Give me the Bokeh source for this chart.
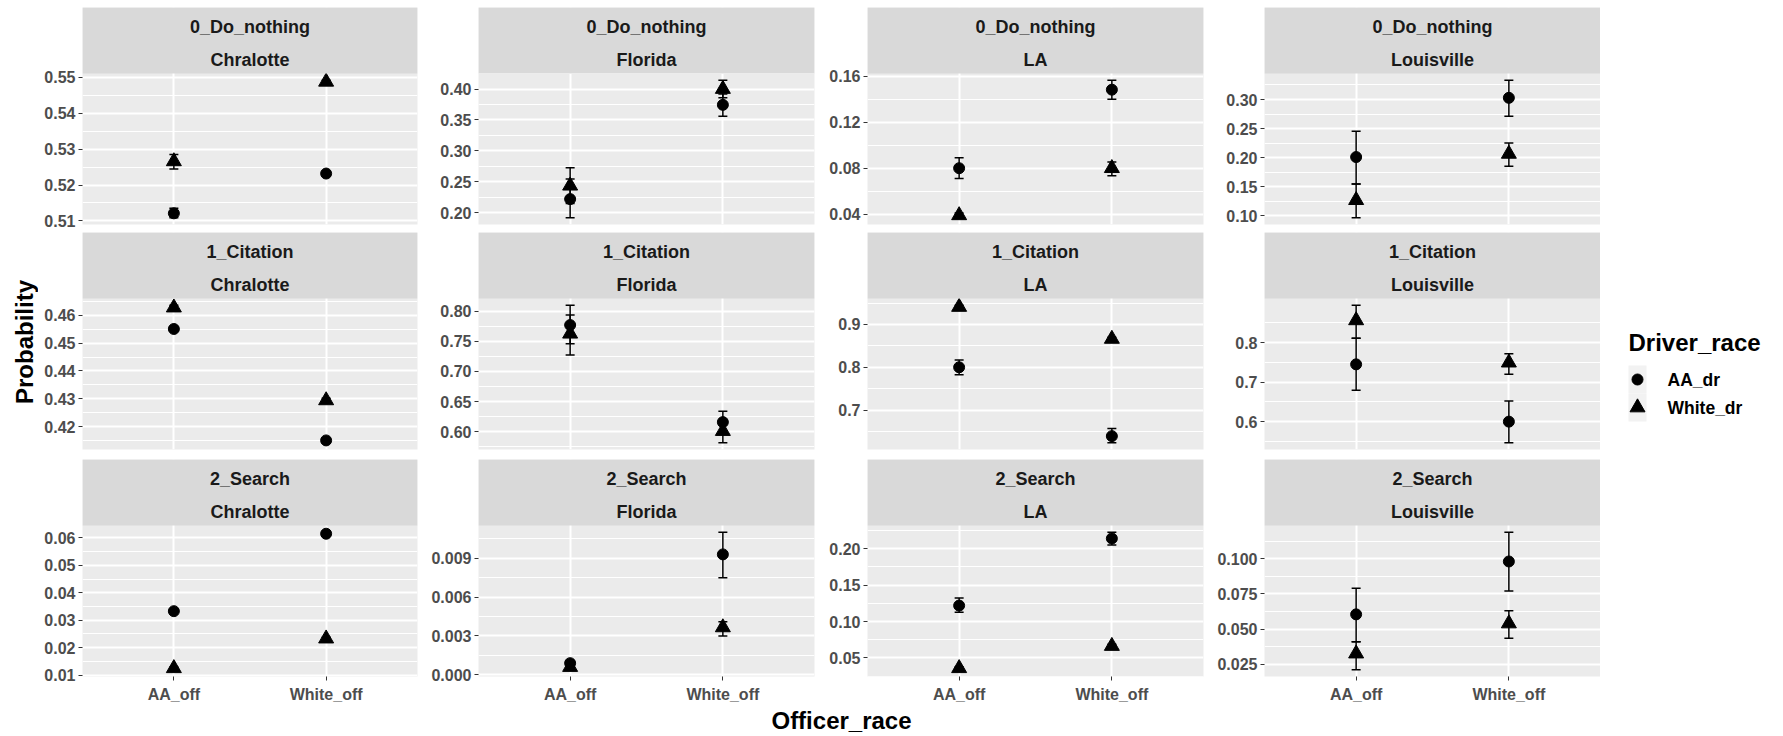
import math
from bokeh.plotting import figure
from bokeh.models import (Range1d, FixedTicker, PrintfTickFormatter, BoxAnnotation, Label,
                          Whisker, TeeHead, ColumnDataSource, LinearAxis, Grid)
from bokeh.layouts import row, column
from bokeh.embed import file_html
from bokeh.resources import INLINE

# ---------------- data ----------------
cities = ["Chralotte", "Florida", "LA", "Louisville"]
outcomes = ["0_Do_nothing", "1_Citation", "2_Search"]
officer_race = ["AA_off", "White_off"]
driver_race = ["AA_dr", "White_dr"]

# panel order: outcome-major, city-minor; each pair = (AA_off, White_off)
aa_dr_est = [(0.5121, 0.5232), (0.222, 0.3744), (0.080, 0.1483), (0.2012, 0.3029),
             (0.4551, 0.4150), (0.7768, 0.616), (0.800, 0.6392), (0.7451, 0.600),
             (0.0333, 0.0615), (0.0009, 0.0093), (0.122, 0.2141), (0.0605, 0.0981)]
aa_dr_lower = [(0.5109, 0.5228), (0.192, 0.356), (0.071, 0.140), (0.1547, 0.2712),
               (0.4543, 0.4142), (0.7459, 0.5983), (0.7823, 0.624), (0.6793, 0.5468),
               (0.0328, 0.0610), (0.0007, 0.0075), (0.1127, 0.2052), (0.041, 0.0771)]
aa_dr_upper = [(0.5135, 0.5236), (0.2545, 0.392), (0.089, 0.1564), (0.2453, 0.3329),
               (0.4559, 0.4158), (0.8094, 0.6342), (0.8169, 0.657), (0.811, 0.6523),
               (0.0338, 0.0620), (0.0011, 0.0110), (0.1323, 0.2225), (0.0791, 0.1188)]
white_dr_est = [(0.5266, 0.5488), (0.2436, 0.400), (0.039, 0.080), (0.1271, 0.2066),
                (0.4628, 0.4294), (0.7624, 0.6011), (0.9408, 0.8662), (0.8565, 0.7494),
                (0.0125, 0.0233), (0.0006, 0.00366), (0.0359, 0.0664), (0.0326, 0.054)]
white_dr_lower = [(0.5245, 0.5484), (0.215, 0.386), (0.037, 0.0734), (0.0971, 0.1853),
                  (0.4620, 0.4286), (0.7271, 0.582), (0.937, 0.862), (0.811, 0.7198),
                  (0.0120, 0.0228), (0.0004, 0.0030), (0.034, 0.064), (0.0212, 0.0436)]
white_dr_upper = [(0.5285, 0.5492), (0.2725, 0.414), (0.041, 0.0854), (0.1547, 0.2251),
                  (0.4636, 0.4302), (0.7934, 0.612), (0.9446, 0.8704), (0.8945, 0.7722),
                  (0.0130, 0.0238), (0.0008, 0.0041), (0.0378, 0.0688), (0.041, 0.063)]

y_tick_labels = [
    ["0.51", "0.52", "0.53", "0.54", "0.55"],
    ["0.20", "0.25", "0.30", "0.35", "0.40"],
    ["0.04", "0.08", "0.12", "0.16"],
    ["0.10", "0.15", "0.20", "0.25", "0.30"],
    ["0.42", "0.43", "0.44", "0.45", "0.46"],
    ["0.60", "0.65", "0.70", "0.75", "0.80"],
    ["0.7", "0.8", "0.9"],
    ["0.6", "0.7", "0.8"],
    ["0.01", "0.02", "0.03", "0.04", "0.05", "0.06"],
    ["0.000", "0.003", "0.006", "0.009"],
    ["0.05", "0.10", "0.15", "0.20"],
    ["0.025", "0.050", "0.075", "0.100"],
]

# ---------------- style / layout ----------------
FONT = "Liberation Sans"
PANEL_BG = "#EBEBEB"
STRIP_BG = "#D9D9D9"
TICK_FS = "16px"
STRIP_FS = "18px"
TITLE_FS = "24px"
STRIP_H = 66
DATA_H = 151
FRAME_H = STRIP_H + DATA_H
COL_BL = [44, 50, 50, 50]
COL_FW = [335, 336, 336, 336]
COL_BR = [11, 3, 11, 0]
ROW_BT = [7, 0, 0]
ROW_BB = [8, 10, 32]
LEFT_W = 38
LEGEND_W = 180
BOTTOM_H = 26
GRID_H = sum(t + FRAME_H + b for t, b in zip(ROW_BT, ROW_BB))


def style_axis(ax):
    ax.axis_line_color = None
    ax.major_tick_line_color = "#333333"
    ax.major_tick_out = 4
    ax.major_tick_in = 0
    ax.minor_tick_line_color = None
    ax.major_label_text_font = FONT
    ax.major_label_text_font_style = "bold"
    ax.major_label_text_font_size = TICK_FS
    ax.major_label_text_color = "#4D4D4D"


def make_panel(r, c):
    k = r * 4 + c
    vals = []
    for arr in (aa_dr_est, aa_dr_lower, aa_dr_upper, white_dr_est, white_dr_lower, white_dr_upper):
        vals.extend(arr[k])
    lo, hi = min(vals), max(vals)
    span = hi - lo
    r0 = lo - 0.05 * span
    r1 = hi + 0.05 * span
    rtop = r1 + (r1 - r0) * STRIP_H / DATA_H

    w = COL_BL[c] + COL_FW[c] + COL_BR[c]
    h = ROW_BT[r] + FRAME_H + ROW_BB[r]
    p = figure(width=w, height=h, x_range=Range1d(0.4, 2.6), y_range=Range1d(r0, rtop),
               x_axis_type=None, y_axis_type=None, title=None,
               output_backend="svg", toolbar_location=None,
               min_border_left=COL_BL[c], min_border_right=COL_BR[c],
               min_border_top=ROW_BT[r], min_border_bottom=ROW_BB[r])
    p.background_fill_color = PANEL_BG
    p.border_fill_color = "white"
    p.outline_line_color = None

    xs = [i + 1 for i in range(len(officer_race))]
    xt = FixedTicker(ticks=xs, minor_ticks=[])
    labels = y_tick_labels[k]
    majors = [float(s) for s in labels]
    step = majors[1] - majors[0]
    minors = [majors[0] - step / 2 + i * step for i in range(len(majors) + 1)]
    minors = [m for m in minors if r0 <= m <= r1]
    yt = FixedTicker(ticks=majors, minor_ticks=minors)
    decimals = len(labels[0].split(".")[1])

    p.add_layout(Grid(dimension=0, ticker=xt, grid_line_color="white", grid_line_width=2))
    p.add_layout(Grid(dimension=1, ticker=yt, grid_line_color="white", grid_line_width=2,
                      minor_grid_line_color="white", minor_grid_line_width=1))

    yaxis = LinearAxis(ticker=yt, formatter=PrintfTickFormatter(format="%." + str(decimals) + "f"))
    style_axis(yaxis)
    yaxis.major_label_standoff = 3
    p.add_layout(yaxis, "left")

    if r == len(outcomes) - 1:
        xaxis = LinearAxis(ticker=xt, major_label_overrides={x: n for x, n in zip(xs, officer_race)})
        style_axis(xaxis)
        xaxis.major_label_standoff = 5
        p.add_layout(xaxis, "below")

    series = [
        (aa_dr_est, aa_dr_lower, aa_dr_upper, "circle", 11),
        (white_dr_est, white_dr_lower, white_dr_upper, "triangle", 15),
    ]
    for est, lower, upper, marker, size in series:
        src = ColumnDataSource(dict(x=xs, est=list(est[k]), lower=list(lower[k]), upper=list(upper[k])))
        wh = Whisker(source=src, base="x", lower="lower", upper="upper", dimension="height",
                     line_color="black", line_width=1.5, level="glyph",
                     upper_head=TeeHead(size=9, line_color="black", line_width=1.5),
                     lower_head=TeeHead(size=9, line_color="black", line_width=1.5))
        p.add_layout(wh)
        p.scatter("x", "est", source=src, marker=marker, size=size,
                  fill_color="black", line_color="black")

    # facet strip
    p.add_layout(BoxAnnotation(bottom=r1, fill_color=STRIP_BG, fill_alpha=1.0, line_color=None))
    per_px = (rtop - r0) / FRAME_H
    for txt, off in ((outcomes[r], 19.5), (cities[c], 52)):
        p.add_layout(Label(x=1.5, y=rtop - off * per_px, text=txt, text_align="center",
                           text_baseline="middle", text_font=FONT, text_font_style="bold",
                           text_font_size=STRIP_FS, text_color="#1A1A1A"))
    return p


def blank(w, h):
    f = figure(width=w, height=h, x_range=Range1d(0, w), y_range=Range1d(0, h),
               x_axis_type=None, y_axis_type=None, title=None,
               output_backend="svg", toolbar_location=None,
               min_border_left=0, min_border_right=0, min_border_top=0, min_border_bottom=0)
    f.outline_line_color = None
    f.background_fill_color = "white"
    f.border_fill_color = "white"
    return f


rows = []
for r in range(len(outcomes)):
    rows.append(row(*[make_panel(r, c) for c in range(len(cities))]))
grid = column(*rows)

panels_top = ROW_BT[0]
panels_bottom = GRID_H - ROW_BB[-1]

left = blank(LEFT_W, GRID_H)
left.add_layout(Label(x=24, y=GRID_H - (panels_top + panels_bottom) / 2, text="Probability",
                      angle=math.pi / 2, text_align="center", text_baseline="middle",
                      text_font=FONT, text_font_style="bold", text_font_size=TITLE_FS,
                      text_color="black"))

leg = blank(LEGEND_W, GRID_H)
leg.add_layout(Label(x=28, y=GRID_H - 342, text="Driver_race", text_align="left",
                     text_baseline="middle", text_font=FONT, text_font_style="bold",
                     text_font_size=TITLE_FS, text_color="black"))
key_markers = ["circle", "triangle"]
key_sizes = [11, 15]
for i, name in enumerate(driver_race):
    top = GRID_H - (365 + 28 * i)
    leg.quad(left=28, right=46, top=top, bottom=top - 28, fill_color="#F2F2F2", line_color=None)
    leg.scatter(x=37, y=top - 14, marker=key_markers[i], size=key_sizes[i],
                fill_color="black", line_color="black")
    leg.add_layout(Label(x=67, y=top - 14, text=name, text_align="left", text_baseline="middle",
                         text_font=FONT, text_font_style="bold", text_font_size="17.5px",
                         text_color="black"))

panels_w = sum(COL_BL) + sum(COL_FW) + sum(COL_BR)
total_w = LEFT_W + panels_w + LEGEND_W
bottom = blank(total_w, BOTTOM_H)
panels_center = LEFT_W + (COL_BL[0] + panels_w - COL_BR[3]) / 2
bottom.add_layout(Label(x=panels_center, y=BOTTOM_H - 12, text="Officer_race", text_align="center",
                        text_baseline="middle", text_font=FONT, text_font_style="bold",
                        text_font_size=TITLE_FS, text_color="black"))

page = column(row(left, grid, leg), bottom)
open("out.html", "w").write(file_html(page, INLINE))
